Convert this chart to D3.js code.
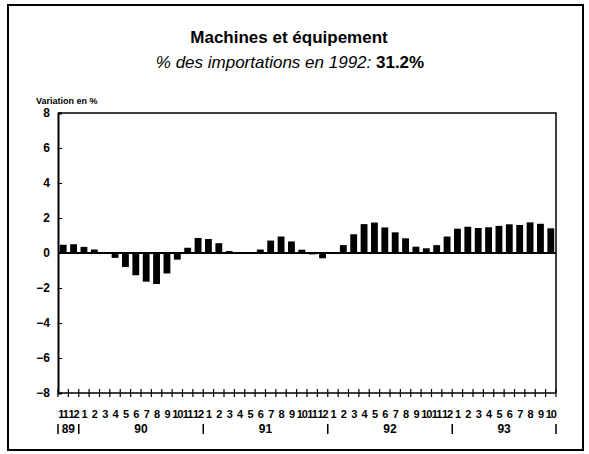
<!DOCTYPE html>
<html>
<head>
<meta charset="utf-8">
<script src="https://cdn.jsdelivr.net/npm/d3@7"></script>
<style>
	body { margin: 0; background: #fff; }
	svg { display: block; font-family: 'Liberation Sans', Arial, sans-serif; }
	.axis path, .axis line { stroke: #000; }
	.axis text { font-weight: bold; fill: #000; }
</style>
</head>
<body>
<div id="chart"></div>
<script>
let width = 589
let height = 454

// chart values, Nov 1989 to Oct 1993
let monthLabels = ['11','12',
	'1','2','3','4','5','6','7','8','9','10','11','12',
	'1','2','3','4','5','6','7','8','9','10','11','12',
	'1','2','3','4','5','6','7','8','9','10','11','12',
	'1','2','3','4','5','6','7','8','9','10']

let values = [0.47, 0.5,
	0.35, 0.2, 0.05, -0.28, -0.8, -1.27, -1.64, -1.77, -1.17, -0.38, 0.3, 0.86,
	0.8, 0.56, 0.11, 0.02, -0.05, 0.2, 0.71, 0.94, 0.66, 0.19, -0.08, -0.3,
	0.02, 0.45, 1.07, 1.65, 1.74, 1.46, 1.18, 0.84, 0.36, 0.27, 0.45, 0.94,
	1.39, 1.5, 1.43, 1.47, 1.55, 1.64, 1.6, 1.75, 1.67, 1.41]

let yearLabels = ['89', '90', '91', '92', '93']
let yearMonths = [2, 12, 12, 12, 10]

let yTicks = [-8, -6, -4, -2, 0, 2, 4, 6, 8]

let margins = {
	top : 113,
	right : 33,
	bottom : 61,
	left : 58,
}

let innerW = width - margins.left - margins.right
let innerH = height - margins.top - margins.bottom

let keys = monthLabels.map((d, i) => i)

let xScale = d3.scaleBand()
	.domain(keys)
	.range([0, innerW])
	.paddingInner(0.34)
	.paddingOuter(0.17)

let yScale = d3.scaleLinear()
	.domain([-8, 8])
	.range([innerH, 0])

let svg = d3.select('#chart').append('svg')
	.attr('width', width)
	.attr('height', height)

svg.append('rect')
	.attr('width', width)
	.attr('height', height)
	.attr('fill', '#fff')

// outer frame
svg.append('rect')
	.attr('x', 8)
	.attr('y', 5)
	.attr('width', 575)
	.attr('height', 445)
	.attr('fill', 'none')
	.attr('stroke', '#000')
	.attr('stroke-width', 2)

svg.append('text')
	.text('Machines et équipement')
	.attr('x', 289)
	.attr('y', 43)
	.attr('text-anchor', 'middle')
	.attr('font-size', 17)
	.attr('font-weight', 'bold')

let sub = svg.append('text')
	.attr('x', 290)
	.attr('y', 68)
	.attr('text-anchor', 'middle')
	.attr('font-size', 17)
sub.append('tspan')
	.attr('font-style', 'italic')
	.text('% des importations en 1992: ')
sub.append('tspan')
	.attr('font-weight', 'bold')
	.text('31.2%')

svg.append('text')
	.text('Variation en %')
	.attr('x', 36)
	.attr('y', 104)
	.attr('font-size', 9)
	.attr('font-weight', 'bold')

let inner = svg.append('g')
	.attr('transform', `translate(${margins.left},${margins.top})`)

// frame of the plot
inner.append('path')
	.attr('d', `M0,0H${innerW}V${innerH}`)
	.attr('fill', 'none')
	.attr('stroke', '#000')
	.attr('stroke-width', 1.5)

let yAxis = d3.axisLeft(yScale)
	.tickValues(yTicks)
	.tickSize(-4)
	.tickPadding(8)

inner.append('g')
	.attr('class', 'axis')
	.call(yAxis)
	.call(g => g.select('.domain').attr('stroke-width', 2))
	.call(g => g.selectAll('text').attr('font-size', 12))

// bars
inner.append('g')
	.selectAll('rect')
	.data(values)
	.enter()
	.append('rect')
	.attr('x', (d, i) => xScale(i))
	.attr('width', xScale.bandwidth())
	.attr('y', (d) => yScale(Math.max(0, d)))
	.attr('height', (d) => Math.abs(yScale(d) - yScale(0)))
	.attr('fill', '#000')

// zero line
inner.append('line')
	.attr('x1', 0)
	.attr('x2', innerW)
	.attr('y1', yScale(0))
	.attr('y2', yScale(0))
	.attr('stroke', '#000')
	.attr('stroke-width', 2)

// bottom axis with ticks crossing at month boundaries
let step = xScale.step()
let bottom = inner.append('g')
	.attr('transform', `translate(0,${innerH})`)

bottom.append('line')
	.attr('x1', 0)
	.attr('x2', innerW)
	.attr('stroke', '#000')
	.attr('stroke-width', 1.5)

bottom.selectAll('.mtick')
	.data(d3.range(monthLabels.length + 1))
	.enter()
	.append('line')
	.attr('x1', (d) => d * step)
	.attr('x2', (d) => d * step)
	.attr('y1', -4)
	.attr('y2', 4)
	.attr('stroke', '#000')
	.attr('stroke-width', 1.2)

bottom.selectAll('.mlabel')
	.data(monthLabels)
	.enter()
	.append('text')
	.text((d) => d)
	.attr('x', (d, i) => xScale(i) + xScale.bandwidth() / 2)
	.attr('y', 25)
	.attr('text-anchor', 'middle')
	.attr('font-size', 11)
	.attr('font-weight', 'bold')
	.attr('letter-spacing', -1)

// year groups
let starts = []
let acc = 0
yearMonths.forEach((n) => { starts.push(acc); acc += n })
let seps = starts.concat([acc])

bottom.selectAll('.ysep')
	.data(seps)
	.enter()
	.append('line')
	.attr('x1', (d) => d * step)
	.attr('x2', (d) => d * step)
	.attr('y1', 31)
	.attr('y2', 41)
	.attr('stroke', '#000')
	.attr('stroke-width', 1.5)

bottom.selectAll('.ylabel')
	.data(yearLabels)
	.enter()
	.append('text')
	.text((d) => d)
	.attr('x', (d, i) => (starts[i] + yearMonths[i] / 2) * step)
	.attr('y', 40)
	.attr('text-anchor', 'middle')
	.attr('font-size', 12)
	.attr('font-weight', 'bold')
</script>
</body>
</html>
